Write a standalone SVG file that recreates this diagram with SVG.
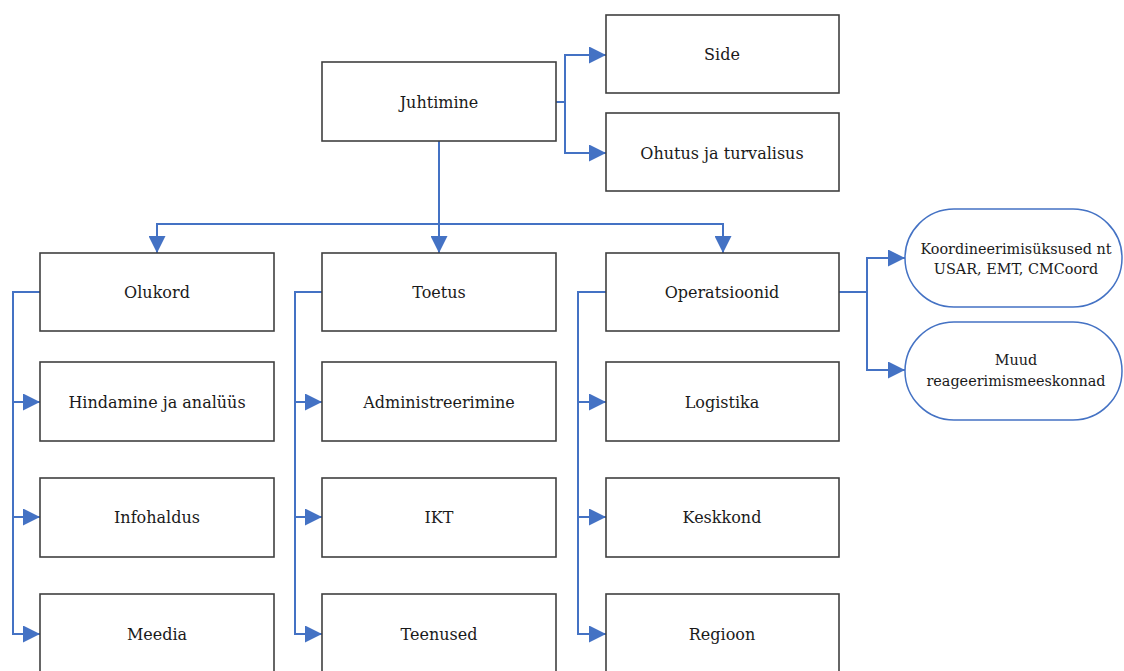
<svg xmlns="http://www.w3.org/2000/svg" width="1124" height="671" viewBox="0 0 1124 671">
<defs>
<style>
.box{fill:#fff;stroke:#404040;stroke-width:1.6}
.pill{fill:#fff;stroke:#4472C4;stroke-width:1.5}
.t{font-family:"DejaVu Serif","Liberation Serif",serif;font-size:16px;fill:#1a1a1a;text-anchor:middle;dominant-baseline:central}
.ts{font-family:"DejaVu Serif","Liberation Serif",serif;font-size:14.4px;fill:#1a1a1a;text-anchor:middle;dominant-baseline:central}
.c{fill:none;stroke:#4472C4;stroke-width:2}
</style>
<marker id="ah" viewBox="0 0 10 10" refX="10" refY="5" markerWidth="8.5" markerHeight="8.5" markerUnits="strokeWidth" orient="auto">
<path d="M0,0 L10,5 L0,10 z" fill="#4472C4"/>
</marker>
</defs>
<rect width="1124" height="671" fill="#fff"/>
<g id="connectors">
<path class="c" d="M556,102 H565 V55 H606" marker-end="url(#ah)"/>
<path class="c" d="M565,102 V153 H606" marker-end="url(#ah)"/>
<path class="c" d="M439,141 V253" marker-end="url(#ah)"/>
<path class="c" d="M439,224 H157 V253" marker-end="url(#ah)"/>
<path class="c" d="M439,224 H723 V253" marker-end="url(#ah)"/>
<path class="c" d="M40,292 H13 V402 H40" marker-end="url(#ah)"/>
<path class="c" d="M13,402 V517 H40" marker-end="url(#ah)"/>
<path class="c" d="M13,517 V634 H40" marker-end="url(#ah)"/>
<path class="c" d="M322,292 H295 V402 H322" marker-end="url(#ah)"/>
<path class="c" d="M295,402 V517 H322" marker-end="url(#ah)"/>
<path class="c" d="M295,517 V634 H322" marker-end="url(#ah)"/>
<path class="c" d="M606,292 H578 V402 H606" marker-end="url(#ah)"/>
<path class="c" d="M578,402 V517 H606" marker-end="url(#ah)"/>
<path class="c" d="M578,517 V634 H606" marker-end="url(#ah)"/>
<path class="c" d="M839,292 H867 V258 H905" marker-end="url(#ah)"/>
<path class="c" d="M867,292 V370 H905" marker-end="url(#ah)"/>
</g>
<g id="juhtimine"><rect class="box" x="322" y="62" width="234" height="79"/><text class="t" x="439" y="102">Juhtimine</text></g>
<g id="side"><rect class="box" x="606" y="15" width="233" height="78"/><text class="t" x="722" y="54">Side</text></g>
<g id="ohutus"><rect class="box" x="606" y="113" width="233" height="78"/><text class="t" x="722" y="153">Ohutus ja turvalisus</text></g>
<g id="olukord"><rect class="box" x="40" y="253" width="234" height="78"/><text class="t" x="157" y="292">Olukord</text></g>
<g id="hindamine"><rect class="box" x="40" y="362" width="234" height="79"/><text class="t" x="157" y="402">Hindamine ja analüüs</text></g>
<g id="infohaldus"><rect class="box" x="40" y="478" width="234" height="79"/><text class="t" x="157" y="517">Infohaldus</text></g>
<g id="meedia"><rect class="box" x="40" y="594" width="234" height="90"/><text class="t" x="157" y="634">Meedia</text></g>
<g id="toetus"><rect class="box" x="322" y="253" width="234" height="78"/><text class="t" x="439" y="292">Toetus</text></g>
<g id="administreerimine"><rect class="box" x="322" y="362" width="234" height="79"/><text class="t" x="439" y="402">Administreerimine</text></g>
<g id="ikt"><rect class="box" x="322" y="478" width="234" height="79"/><text class="t" x="439" y="517">IKT</text></g>
<g id="teenused"><rect class="box" x="322" y="594" width="234" height="90"/><text class="t" x="439" y="634">Teenused</text></g>
<g id="operatsioonid"><rect class="box" x="606" y="253" width="233" height="78"/><text class="t" x="722" y="292">Operatsioonid</text></g>
<g id="logistika"><rect class="box" x="606" y="362" width="233" height="79"/><text class="t" x="722" y="402">Logistika</text></g>
<g id="keskkond"><rect class="box" x="606" y="478" width="233" height="79"/><text class="t" x="722" y="517">Keskkond</text></g>
<g id="regioon"><rect class="box" x="606" y="594" width="233" height="90"/><text class="t" x="722" y="634">Regioon</text></g>
<g id="koordineerimis"><rect class="pill" x="905" y="209" width="217" height="98" rx="49" ry="49"/><text class="ts" x="1016" y="249">Koordineerimisüksused nt</text><text class="ts" x="1016" y="269">USAR, EMT, CMCoord</text></g>
<g id="muud"><rect class="pill" x="905" y="322" width="217" height="98" rx="49" ry="49"/><text class="ts" x="1016" y="360">Muud</text><text class="ts" x="1016" y="381">reageerimismeeskonnad</text></g>
</svg>
